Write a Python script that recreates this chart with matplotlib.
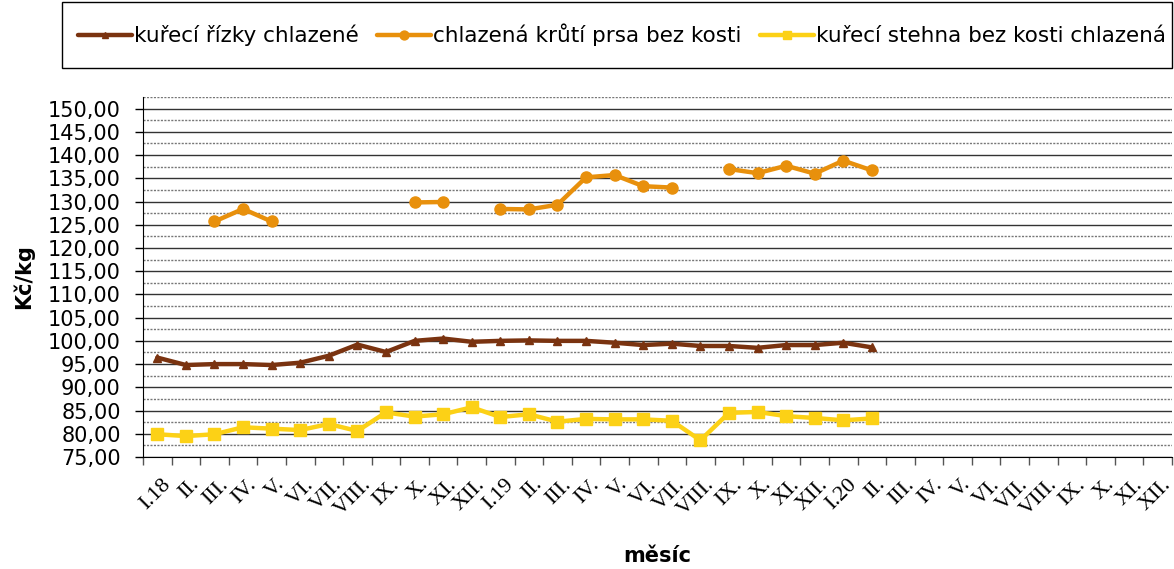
import matplotlib
matplotlib.use("Agg")
import matplotlib.pyplot as plt
import matplotlib.transforms as mtransforms
from matplotlib.patches import Rectangle
import numpy as np

roman = ['I.', 'II.', 'III.', 'IV.', 'V.', 'VI.', 'VII.', 'VIII.', 'IX.', 'X.', 'XI.', 'XII.']
months = (['I.18'] + roman[1:]) + (['I.19'] + roman[1:]) + (['I.20'] + roman[1:])

nan = np.nan
rizky = [96.4, 94.8, 95.0, 95.0, 94.8, 95.3, 96.8, 99.2, 97.6, 100.0, 100.5, 99.8,
         100.0, 100.1, 100.0, 100.0, 99.6, 99.1, 99.4, 98.9, 98.9, 98.5, 99.1, 99.1,
         99.6, 98.6]
prsa = [nan, nan, 125.7, 128.4, 125.7, nan, nan, nan, nan, 129.8, 129.9, nan,
        128.4, 128.3, 129.3, 135.2, 135.7, 133.3, 133.0, nan, 137.0, 136.1, 137.7, 136.0,
        138.8, 136.7]
stehna = [79.9, 79.5, 79.9, 81.4, 81.1, 80.8, 82.1, 80.6, 84.6, 83.7, 84.2, 85.7,
          83.6, 84.2, 82.6, 83.2, 83.1, 83.1, 82.8, 78.6, 84.5, 84.7, 83.8, 83.4,
          82.9, 83.3]

series = [
    ("kuřecí řízky chlazené", rizky, "#7a3310", "^", 6),
    ("chlazená krůtí prsa bez kosti", prsa, "#e8900c", "o", 8),
    ("kuřecí stehna bez kosti chlazená", stehna, "#fcd116", "s", 8),
]


def main():
    fig = plt.figure(figsize=(11.74, 5.69), dpi=100)
    W, H = 1174, 569
    ax = fig.add_axes([143 / W, 112 / H, 1029 / W, 360 / H])

    x = np.arange(len(months))
    for label, vals, color, marker, ms in series:
        v = np.full(len(months), np.nan)
        v[:len(vals)] = vals
        ax.plot(x, v, color=color, lw=3.2, marker=marker, ms=ms, label=label,
                solid_joinstyle="round", solid_capstyle="round")

    ax.set_xlim(-0.5, len(months) - 0.5)
    ax.set_ylim(75, 152.5)

    yt = np.arange(75, 151, 5)
    ax.set_yticks(yt, labels=[f"{v:.2f}".replace(".", ",") for v in yt])
    ax.set_yticks(np.arange(77.5, 153, 5), minor=True)
    ax.tick_params(axis="y", which="major", length=6, width=1, labelsize=15, pad=10)
    ax.tick_params(axis="y", which="minor", length=0)
    ax.yaxis.grid(True, which="major", color="#333333", lw=1)
    ax.yaxis.grid(True, which="minor", color="#777777", lw=1, ls=(0, (1.5, 1)))

    ax.set_xticks(np.arange(-0.5, len(months), 1))
    ax.set_xticklabels([])
    ax.set_xticks(x, minor=True)
    ax.set_xticklabels(months, minor=True, rotation=45, ha="right",
                       rotation_mode="anchor", family="Liberation Serif", fontsize=16)
    ax.tick_params(axis="x", which="major", length=6, width=1, color="#555555")
    ax.tick_params(axis="x", which="minor", length=0, pad=13)
    shift = mtransforms.ScaledTranslation(4 / 100, 0, fig.dpi_scale_trans)
    for t in ax.get_xticklabels(minor=True):
        t.set_transform(t.get_transform() + shift)

    for s in ["top", "right"]:
        ax.spines[s].set_visible(False)
    ax.set_axisbelow(True)

    ax.set_ylabel("Kč/kg", fontsize=15, fontweight="bold", labelpad=10)
    ax.set_xlabel("měsíc", fontsize=15, fontweight="bold", labelpad=19)

    # legend box drawn separately so the padding matches the original
    fig.patches.append(Rectangle((62 / W, 1 - 68 / H), 1110 / W, 66 / H,
                                 transform=fig.transFigure, fill=False,
                                 edgecolor="black", lw=1))
    fig.legend(loc="center right", bbox_to_anchor=(1166 / W, 1 - 35 / H),
               ncol=3, fontsize=15.5, frameon=False, borderpad=0, borderaxespad=0,
               handlelength=2.5, handletextpad=0.1, columnspacing=0.85, markerscale=0.8)

    fig.savefig("out.png", dpi=100)


if __name__ == "__main__":
    main()
